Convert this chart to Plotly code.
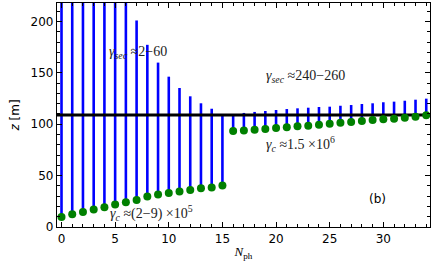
import plotly.graph_objects as go

# data
n_ph = list(range(35))
z_low = [9.8, 12.4, 14.6, 17.0, 19.2, 21.9, 24.1, 26.3, 29.7, 31.6, 33.2, 34.5, 36.1, 37.8, 38.4, 40.4,
         93.4, 94.0, 94.6, 95.3, 96.3, 97.0, 98.0, 98.5, 99.5, 100.5, 101.5, 102.1, 103.1, 104.1,
         104.8, 105.4, 106.3, 107.3, 108.7]
z_high = [3000, 1500, 800, 500, 350, 270, 230, 201, 177.3, 160, 146.3, 135.3, 127.2, 120.4, 115.1, 110.0,
          110.0, 111.0, 112.0, 112.9, 113.9, 114.8, 115.5, 116.1, 116.8, 117.1, 118.0, 118.7, 119.7,
          120.4, 121.4, 122.0, 122.9, 123.9, 124.9]
z_ref = 109
x_range = [-0.42, 34.35]
y_range = [0, 218]

xs, ys = [], []
for n, lo, hi in zip(n_ph, z_low, z_high):
    xs += [n, n, None]
    ys += [lo, hi, None]

fig = go.Figure()
fig.add_trace(go.Scatter(x=xs, y=ys, mode="lines", line=dict(color="#0000ff", width=2.6),
                         showlegend=False, hoverinfo="skip"))
fig.add_trace(go.Scatter(x=x_range, y=[z_ref, z_ref], mode="lines", line=dict(color="black", width=3),
                         showlegend=False, hoverinfo="skip"))
fig.add_trace(go.Scatter(x=n_ph, y=z_low, mode="markers",
                         marker=dict(color="#008000", size=8, line=dict(width=0)),
                         showlegend=False))

serif = dict(family="Liberation Serif", size=14, color="#222")
ann = [
    dict(x=4.2, y=170, text="<i>γ<sub>sec</sub></i> ≈2−60", xanchor="left"),
    dict(x=18.9, y=146, text="<i>γ<sub>sec</sub></i> ≈240−260", xanchor="left"),
    dict(x=18.9, y=80.7, text="<i>γ<sub>c</sub></i> ≈1.5 ×10<sup>6</sup>", xanchor="left"),
    dict(x=4.3, y=13.4, text="<i>γ<sub>c</sub></i> ≈(2−9) ×10<sup>5</sup>", xanchor="left"),
]
for a in ann:
    fig.add_annotation(x=a["x"], y=a["y"], text=a["text"], xanchor=a["xanchor"], yanchor="middle",
                       showarrow=False, font=serif)
fig.add_annotation(x=29.5, y=27, text="(b)", showarrow=False,
                   font=dict(family="DejaVu Sans", size=12, color="black"))

axis_common = dict(showline=True, linecolor="black", linewidth=1.3, mirror="allticks",
                   ticks="inside", ticklen=5, tickwidth=1, tickcolor="black",
                   showgrid=False, zeroline=False,
                   tickfont=dict(family="DejaVu Sans", size=12, color="black"))
fig.update_xaxes(range=x_range, dtick=5, tick0=0,
                 minor=dict(dtick=1, ticks="inside", ticklen=3, tickcolor="black"),
                 title=dict(text="<i>N</i><sub>ph</sub>", font=dict(family="Liberation Serif", size=13, color="black"),
                            standoff=2),
                 **axis_common)
fig.update_yaxes(range=y_range, dtick=50, tick0=0,
                 minor=dict(dtick=10, ticks="inside", ticklen=3, tickcolor="black"),
                 title=dict(text="<i>z</i> [m]", font=dict(family="DejaVu Sans", size=12, color="black"),
                            standoff=8),
                 **axis_common)
fig.update_layout(width=435, height=269, margin=dict(l=57, r=5, t=3, b=42),
                  plot_bgcolor="white", paper_bgcolor="white")
fig.write_html("out.html", config={"displayModeBar": False},
               post_script="document.body.style.margin='0';document.body.style.overflow='hidden';")
